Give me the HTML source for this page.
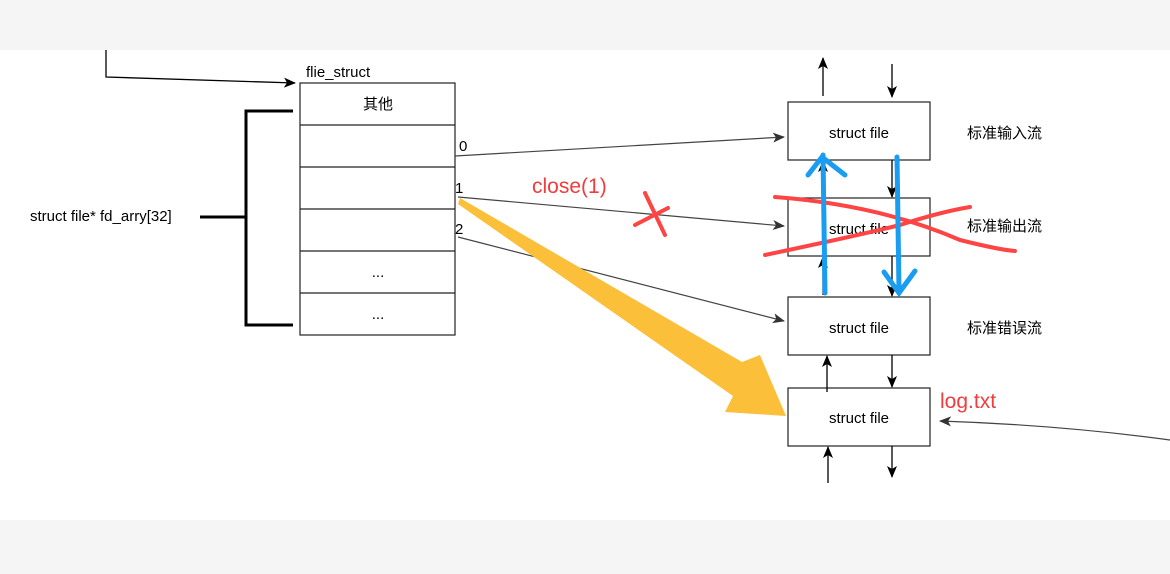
<!DOCTYPE html>
<html><head><meta charset="utf-8"><style>
body{margin:0;width:1170px;height:574px;overflow:hidden;background:#fff;font-family:"Liberation Sans","Noto Sans CJK SC",sans-serif;}
</style></head><body>
<svg width="1170" height="574" viewBox="0 0 1170 574" xmlns="http://www.w3.org/2000/svg" style="position:absolute;left:0;top:0">
<defs>
<marker id="a" markerWidth="12" markerHeight="10" refX="11" refY="5" orient="auto" markerUnits="userSpaceOnUse"><path d="M0,0 L12,5 L0,10 L3,5z" fill="#333"/></marker>
<marker id="b" markerWidth="12" markerHeight="10" refX="11" refY="5" orient="auto" markerUnits="userSpaceOnUse"><path d="M0,0 L12,5 L0,10 L3,5z" fill="#000"/></marker>
</defs>
<rect x="0" y="0" width="1170" height="50" fill="#f5f5f5"/>
<rect x="0" y="520" width="1170" height="54" fill="#f5f5f5"/>
<g font-size="15" fill="#000">
<path d="M106,50 V77 L295,83" stroke="#000" stroke-width="1.3" fill="none" marker-end="url(#b)"/>
<text x="306" y="77">flie_struct</text>
<g stroke="#222" stroke-width="1.2" fill="#fff">
<rect x="300" y="83" width="155" height="252"/>
<line x1="300" y1="125" x2="455" y2="125"/><line x1="300" y1="167" x2="455" y2="167"/>
<line x1="300" y1="209" x2="455" y2="209"/><line x1="300" y1="251" x2="455" y2="251"/>
<line x1="300" y1="293" x2="455" y2="293"/>
</g>
<text x="378" y="109" text-anchor="middle">其他</text>
<text x="378" y="277" text-anchor="middle">...</text>
<text x="378" y="319" text-anchor="middle">...</text>
<path d="M293,111 H246 V325 H293" stroke="#000" stroke-width="3" fill="none"/>
<line x1="200" y1="217" x2="246" y2="217" stroke="#000" stroke-width="3"/>
<text x="30" y="221">struct file* fd_arry[32]</text>
<text x="459" y="151">0</text><text x="455" y="193">1</text><text x="455" y="234">2</text>
<g stroke="#444" stroke-width="1.2" marker-end="url(#a)">
<line x1="455" y1="156" x2="784" y2="137"/>
<line x1="458" y1="197" x2="784" y2="226"/>
<line x1="458" y1="237" x2="784" y2="321"/>
<path d="M1170,440 Q1060,425 940,421" fill="none"/>
</g>
<g stroke="#222" stroke-width="1.2" fill="#fff">
<rect x="788" y="102" width="142" height="58"/>
<rect x="788" y="198" width="142" height="58"/>
<rect x="788" y="297" width="142" height="58"/>
<rect x="788" y="388" width="142" height="58"/>
</g>
<g font-size="15" text-anchor="middle"><text x="859" y="138">struct file</text><text x="859" y="234">struct file</text><text x="859" y="333">struct file</text><text x="859" y="423">struct file</text></g>
<text x="967" y="138">标准输入流</text><text x="967" y="231">标准输出流</text><text x="967" y="333">标准错误流</text>
<g stroke="#000" stroke-width="1.3" marker-end="url(#b)">
<line x1="823" y1="96" x2="823" y2="58"/><line x1="892" y1="64" x2="892" y2="97"/>
<line x1="823" y1="198" x2="823" y2="161"/><line x1="892" y1="160" x2="892" y2="197"/>
<line x1="823" y1="295" x2="823" y2="257"/><line x1="892" y1="256" x2="892" y2="296"/>
<line x1="827" y1="392" x2="827" y2="356"/><line x1="892" y1="355" x2="892" y2="387"/>
<line x1="828" y1="483" x2="828" y2="447"/><line x1="892" y1="446" x2="892" y2="477"/>
</g>
<text x="532" y="193" font-size="21" fill="#f03c3c">close(1)</text>
<text x="940" y="408" font-size="21" fill="#f03c3c">log.txt</text>
<path d="M460,198 L742,362 L760,355 L786,416 L725,412 L733,396 L458,204 Z" fill="#fbbf3a"/>
<g stroke="#f44" stroke-width="4" fill="none" stroke-linecap="round">
<path d="M645,193 L665,235"/><path d="M635,225 L668,208"/>
<path d="M775,197 Q880,205 960,240 Q1000,250 1015,251"/>
<path d="M765,255 Q860,235 900,225 Q940,212 970,207"/>
</g>
<g stroke="#1a9cf0" stroke-width="5" fill="none" stroke-linecap="round">
<path d="M823,155 L825,293"/><path d="M808,175 L822,157 L845,175"/>
<path d="M897,157 L899,290"/><path d="M884,272 L899,293 L915,271"/>
</g>
</g>
</svg>
</body></html>
